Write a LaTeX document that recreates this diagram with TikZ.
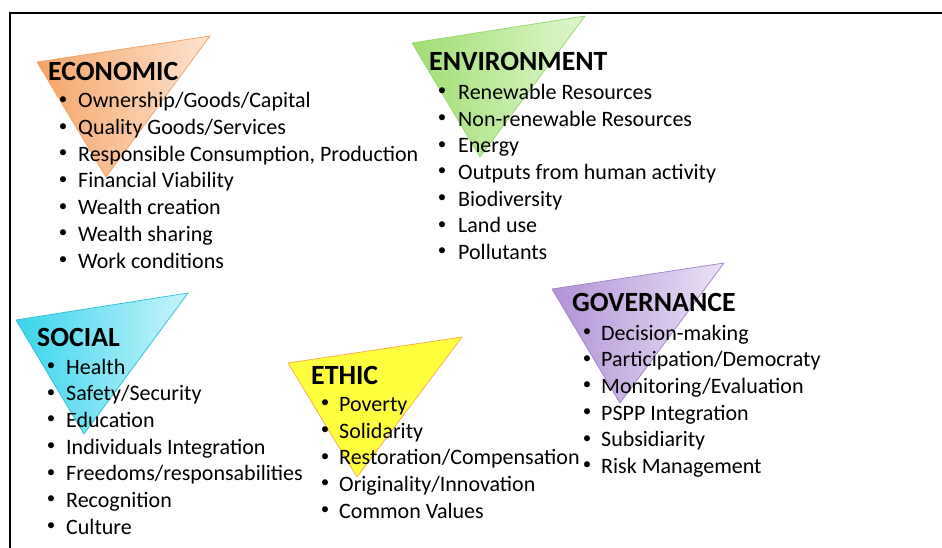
\documentclass[tikz,border=0pt]{standalone}
\usepackage{fontspec}
\setmainfont{Carlito}
\usetikzlibrary{shadings}
\definecolor{orgL}{RGB}{245,164,104}
\definecolor{orgR}{RGB}{253,228,208}
\definecolor{orgE}{RGB}{240,160,96}
\definecolor{grnL}{RGB}{160,222,116}
\definecolor{grnR}{RGB}{222,246,204}
\definecolor{grnE}{RGB}{150,214,106}
\definecolor{cyaL}{RGB}{58,212,236}
\definecolor{cyaR}{RGB}{200,244,251}
\definecolor{cyaE}{RGB}{40,190,216}
\definecolor{yelF}{RGB}{255,255,64}
\definecolor{yelE}{RGB}{245,168,70}
\definecolor{purL}{RGB}{178,146,214}
\definecolor{purR}{RGB}{234,226,246}
\definecolor{purE}{RGB}{160,126,200}
\newcommand{\bitem}[5]{%
  \node[bul] (#1b) at (#2,#4-7.5) {•};
  \node[itm] (#1) at (#3,#4) {#5};}
\begin{document}
\begin{tikzpicture}[x=1pt,y=-1pt,
  tri/.style={line width=0.7pt, line join=round},
  itm/.style={anchor=base west, inner sep=0pt, font=\fontsize{22}{26}\selectfont},
  bul/.style={anchor=center, inner sep=0pt, font=\fontsize{17}{20}\selectfont},
  ttl/.style={anchor=base west, inner sep=0pt, font=\fontsize{27.8}{30}\selectfont\bfseries},
  frame/.style={line width=1.6pt, black}]
\useasboundingbox (0,0) rectangle (942,548);
\fill[white] (0,0) rectangle (942,548);
% frame (top and left only)
\coordinate (fl) at (10,548);
\coordinate (fc) at (10,13);
\coordinate (fr) at (942,13);
\draw[frame] (fl) -- (fc) -- (fr);
% triangles
\draw[tri, draw=orgE, left color=orgL, right color=orgR] (37,62) -- (210,36) -- (106,177) -- cycle;
\draw[tri, draw=grnE, left color=grnL, right color=grnR] (412,43) -- (585,16) -- (480,157) -- cycle;
\draw[tri, draw=cyaE, left color=cyaL, right color=cyaR] (16,320) -- (188,293) -- (84,434) -- cycle;
\draw[tri, draw=yelE, fill=yelF] (288,363) -- (462,337) -- (357,477) -- cycle;
\draw[tri, draw=purE, left color=purL, right color=purR] (552,289) -- (724,263) -- (620,403) -- cycle;
% ECONOMIC
\node[ttl] (eco) at (48,81) {ECONOMIC};
\bitem{eco1}{63}{78}{108}{Ownership/Goods/Capital}
\bitem{eco2}{63}{78}{134.7}{Quality Goods/Services}
\bitem{eco3}{63}{78}{161.3}{Responsible Consumption, Production}
\bitem{eco4}{63}{78}{188}{Financial Viability}
\bitem{eco5}{63}{78}{214.7}{Wealth creation}
\bitem{eco6}{63}{78}{241.3}{Wealth sharing}
\bitem{eco7}{63}{78}{268}{Work conditions}
% ENVIRONMENT
\node[ttl] (env) at (429,71) {ENVIRONMENT};
\bitem{env1}{442}{458}{99.5}{Renewable Resources}
\bitem{env2}{442}{458}{126.2}{Non-renewable Resources}
\bitem{env3}{442}{458}{152.8}{Energy}
\bitem{env4}{442}{458}{179.5}{Outputs from human activity}
\bitem{env5}{442}{458}{206.2}{Biodiversity}
\bitem{env6}{442}{458}{232.8}{Land use}
\bitem{env7}{442}{458}{259.5}{Pollutants}
% SOCIAL
\node[ttl] (soc) at (37,346) {SOCIAL};
\bitem{soc1}{51}{66}{374}{Health}
\bitem{soc2}{51}{66}{400.7}{Safety/Security}
\bitem{soc3}{51}{66}{427.3}{Education}
\bitem{soc4}{51}{66}{454}{Individuals Integration}
\bitem{soc5}{51}{66}{480.7}{Freedoms/responsabilities}
\bitem{soc6}{51}{66}{507.3}{Recognition}
\bitem{soc7}{51}{66}{534}{Culture}
% ETHIC
\node[ttl] (eth) at (311,384) {ETHIC};
\bitem{eth1}{325}{339}{411.5}{Poverty}
\bitem{eth2}{325}{339}{438.2}{Solidarity}
\bitem{eth3}{325}{339}{464.8}{Restoration/Compensation}
\bitem{eth4}{325}{339}{491.5}{Originality/Innovation}
\bitem{eth5}{325}{339}{518.2}{Common Values}
% GOVERNANCE
\node[ttl] (gov) at (572,311) {GOVERNANCE};
\bitem{gov1}{587}{601}{340}{Decision-making}
\bitem{gov2}{587}{601}{366.7}{Participation/Democraty}
\bitem{gov3}{587}{601}{393.3}{Monitoring/Evaluation}
\bitem{gov4}{587}{601}{420}{PSPP Integration}
\bitem{gov5}{587}{601}{446.7}{Subsidiarity}
\bitem{gov6}{587}{601}{473.3}{Risk Management}
\end{tikzpicture}
\end{document}
